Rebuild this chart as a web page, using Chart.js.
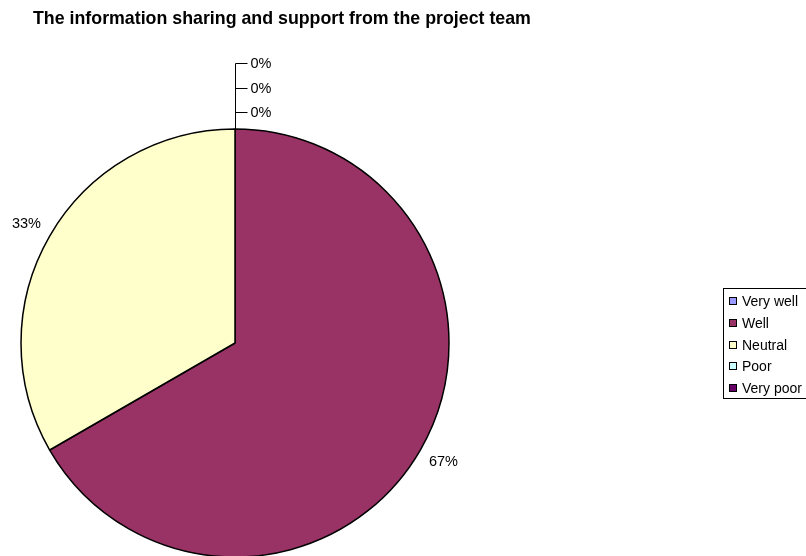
<!DOCTYPE html>
<html>
<head>
<meta charset="utf-8">
<title>Information sharing and support</title>
<script src="https://cdn.jsdelivr.net/npm/chart.js@4.4.0/dist/chart.umd.min.js"></script>
<style>
  html, body { margin: 0; padding: 0; background: #fff; }
  #wrap { width: 806px; height: 556px; }
</style>
</head>
<body>
<div id="wrap"><canvas id="mycanvas" width="806" height="556"></canvas></div>
<script>
var chartTitle = "The information sharing and support from the project team";
var answers = ["Very well", "Well", "Neutral", "Poor", "Very poor"];
var responses = [0, 2, 1, 0, 0];
var sliceColors = ["#9999FF", "#993366", "#FFFFCC", "#CCFFFF", "#660066"];

var FONT = "'Liberation Sans', Arial, sans-serif";

function pct(v) {
  var total = 0;
  for (var i in responses) total += responses[i];
  return Math.round(v / total * 100) + "%";
}

// bold heading, top left
var titlePlugin = {
  id: 'titleText',
  afterDraw: function(chart) {
    var ctx = chart.ctx;
    ctx.save();
    ctx.fillStyle = "#000";
    ctx.font = "bold 17.8px " + FONT;
    ctx.textAlign = "left";
    ctx.textBaseline = "alphabetic";
    ctx.fillText(chartTitle, 33, 24);
    ctx.restore();
  }
};

// percentage labels; empty slices get stacked labels with leader lines at the top
var labelPlugin = {
  id: 'sliceLabels',
  afterDatasetsDraw: function(chart) {
    var ctx = chart.ctx;
    var arcs = chart.getDatasetMeta(0).data;
    ctx.save();
    ctx.font = "14.5px " + FONT;
    ctx.fillStyle = "#000";
    var zeros = [];
    for (var i = 0; i < arcs.length; i++) {
      var a = arcs[i].getProps(['x', 'y', 'startAngle', 'endAngle', 'outerRadius'], true);
      if (responses[i] === 0) { zeros.push(a); continue; }
      var mid = (a.startAngle + a.endAngle) / 2;
      var r = a.outerRadius + 10;
      var px = a.x + Math.cos(mid) * r;
      var py = a.y + Math.sin(mid) * r;
      ctx.textAlign = Math.cos(mid) >= 0 ? "left" : "right";
      ctx.textBaseline = Math.sin(mid) >= 0 ? "top" : "bottom";
      ctx.fillText(pct(responses[i]), px, py);
    }
    if (zeros.length) {
      var z = zeros[0];
      var topY = z.y - z.outerRadius;
      var lx = Math.round(z.x) + 0.5;
      var ys = [];
      for (var k = 0; k < zeros.length; k++) ys.push(Math.round(topY - 17 - k * 24.5) + 0.5);
      ctx.strokeStyle = "#000";
      ctx.lineWidth = 1;
      ctx.beginPath();
      ctx.moveTo(lx, topY);
      ctx.lineTo(lx, ys[ys.length - 1]);
      for (var k = 0; k < ys.length; k++) {
        ctx.moveTo(lx, ys[k]);
        ctx.lineTo(lx + 12, ys[k]);
      }
      ctx.stroke();
      ctx.textAlign = "left";
      ctx.textBaseline = "middle";
      for (var k = 0; k < ys.length; k++) ctx.fillText("0%", lx + 15, ys[k]);
    }
    ctx.restore();
  }
};

// boxed legend on the right
var legendPlugin = {
  id: 'boxLegend',
  afterDraw: function(chart) {
    var ctx = chart.ctx;
    ctx.save();
    ctx.strokeStyle = "#000";
    ctx.lineWidth = 1;
    ctx.strokeRect(723.5, 288.5, 120, 110);
    ctx.font = "14px " + FONT;
    ctx.textAlign = "left";
    ctx.textBaseline = "middle";
    for (var i = 0; i < answers.length; i++) {
      var y = Math.round(301 + i * 21.75);
      ctx.fillStyle = sliceColors[i];
      ctx.fillRect(729.5, y - 3.5, 7, 7);
      ctx.strokeRect(729.5, y - 3.5, 7, 7);
      ctx.fillStyle = "#000";
      ctx.fillText(answers[i], 742, y + 1);
    }
    ctx.restore();
  }
};

var ctx = document.getElementById("mycanvas");
var PieGraph = new Chart(ctx, {
  type: 'pie',
  data: {
    labels: answers,
    datasets: [{
      data: responses,
      backgroundColor: sliceColors,
      borderColor: "#000",
      borderWidth: 1.5,
      hoverOffset: 0
    }]
  },
  options: {
    responsive: false,
    animation: false,
    radius: 214,
    layout: { padding: { left: 21, top: 130, right: 357, bottom: 0 } },
    plugins: {
      legend: { display: false },
      tooltip: { enabled: false },
      title: { display: false }
    }
  },
  plugins: [titlePlugin, labelPlugin, legendPlugin]
});
</script>
</body>
</html>
